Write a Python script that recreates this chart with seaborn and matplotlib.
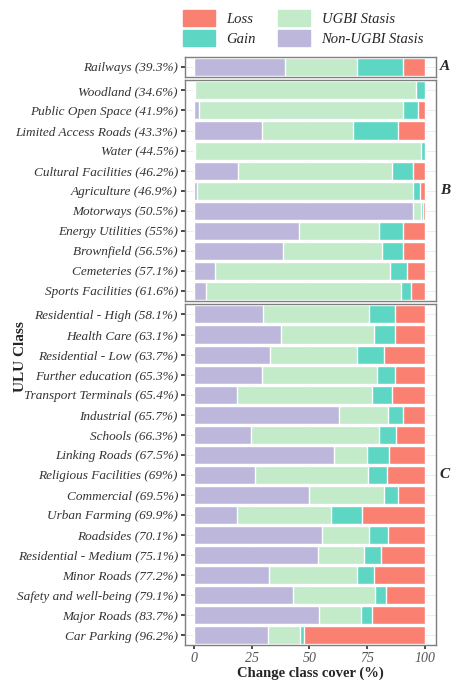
import matplotlib
matplotlib.use("Agg")
import matplotlib.pyplot as plt
from matplotlib.patches import Patch
import seaborn as sns
import pandas as pd
import numpy as np

sns.set_theme(style="whitegrid")
plt.rcParams['font.family'] = ['Liberation Serif', 'DejaVu Serif']

# cumulative boundaries: end of non-UGBI stasis, end of UGBI stasis, end of gain (loss fills to 100)
group_a = ["Railways (39.3%)"]
non_a = [39.3]; stasis_a = [70.9]; gain_a = [90.5]

group_b = ["Woodland (34.6%)", "Public Open Space (41.9%)", "Limited Access Roads (43.3%)",
           "Water (44.5%)", "Cultural Facilities (46.2%)", "Agriculture (46.9%)",
           "Motorways (50.5%)", "Energy Utilities (55%)", "Brownfield (56.5%)",
           "Cemeteries (57.1%)", "Sports Facilities (61.6%)"]
non_b = [0.3, 2.3, 29.4, 0.3, 18.9, 1.4, 95.2, 45.7, 38.6, 9.0, 5.0]
stasis_b = [96.3, 90.6, 69.1, 98.3, 85.9, 94.8, 98.6, 80.4, 81.7, 85.2, 89.9]
gain_b = [100.0, 97.1, 88.4, 100.0, 94.8, 98.2, 99.3, 90.5, 90.8, 92.4, 94.1]

group_c = ["Residential - High (58.1%)", "Health Care (63.1%)", "Residential - Low (63.7%)",
           "Further education (65.3%)", "Transport Terminals (65.4%)", "Industrial (65.7%)",
           "Schools (66.3%)", "Linking Roads (67.5%)", "Religious Facilities (69%)",
           "Commercial (69.5%)", "Urban Farming (69.9%)", "Roadsides (70.1%)",
           "Residential - Medium (75.1%)", "Minor Roads (77.2%)", "Safety and well-being (79.1%)",
           "Major Roads (83.7%)", "Car Parking (96.2%)"]
non_c = [30.1, 37.8, 33.1, 29.5, 18.6, 63.0, 24.8, 60.8, 26.5, 49.8, 18.6, 55.6, 53.7, 32.7, 42.8, 54.2, 32.1]
stasis_c = [76.1, 77.9, 70.8, 79.3, 77.2, 84.3, 80.4, 75.2, 75.6, 82.6, 59.4, 76.1, 73.8, 70.8, 78.6, 72.3, 46.1]
gain_c = [87.3, 87.0, 82.5, 87.3, 85.9, 90.5, 87.7, 84.4, 83.9, 88.4, 73.0, 84.1, 81.1, 77.9, 83.3, 77.1, 47.7]

colors = {"Loss": "#fa8072", "Gain": "#5dd6c4", "UGBI Stasis": "#c3ebc9", "Non-UGBI Stasis": "#bdb7dc"}

fig = plt.figure(figsize=(4.74, 6.85), dpi=100)
gs = fig.add_gridspec(3, 1, height_ratios=[1, 11, 17], hspace=0.018,
                      left=0.39, right=0.92, top=0.917, bottom=0.058)

panels = [("A", group_a, non_a, stasis_a, gain_a),
          ("B", group_b, non_b, stasis_b, gain_b),
          ("C", group_c, non_c, stasis_c, gain_c)]

for i, (tag, cats, non, stasis, gain) in enumerate(panels):
    ax = fig.add_subplot(gs[i])
    df = pd.DataFrame({"cls": cats, "non": non, "stasis": stasis, "gain": gain,
                       "loss": [100.0] * len(cats)})
    for col, key in [("loss", "Loss"), ("gain", "Gain"), ("stasis", "UGBI Stasis"), ("non", "Non-UGBI Stasis")]:
        sns.barplot(data=df, x=col, y="cls", color=colors[key], width=0.9,
                    saturation=1, ax=ax, orient="h")
    ax.set_xlim(-4, 105)
    ax.set_ylim(len(cats) - 0.5, -0.5)
    ax.set_ylabel("")
    ax.set_xlabel("")
    ax.grid(True, color="#ebebeb", lw=0.6)
    ax.set_axisbelow(True)
    for s in ax.spines.values():
        s.set_color("#7f7f7f"); s.set_linewidth(1)
    ax.tick_params(axis="y", labelsize=9.5, length=3, color="#333333", pad=2, left=True)
    for t in ax.get_yticklabels():
        t.set_fontstyle("italic"); t.set_color("#333333")
    ax.set_xticks([0, 25, 50, 75, 100])
    if i < 2:
        ax.tick_params(axis="x", labelbottom=False, length=0)
    else:
        ax.tick_params(axis="x", labelsize=10, length=3, color="#333333", pad=2, bottom=True)
        for t in ax.get_xticklabels():
            t.set_fontstyle("italic"); t.set_color("#555555")
        ax.set_xlabel("Change class cover (%)", fontsize=10.5, fontweight="bold", labelpad=1)
    ax.text(1.035, 0.5, tag, transform=ax.transAxes, fontsize=11, fontstyle="italic",
            fontweight="bold", va="center", ha="center")

fig.text(0.03, 0.48, "ULU Class", rotation=90, fontsize=11, fontweight="bold", va="center")

handles = [Patch(color=colors[k]) for k in ["Loss", "Gain", "UGBI Stasis", "Non-UGBI Stasis"]]
leg = fig.legend(handles, ["Loss", "Gain", "UGBI Stasis", "Non-UGBI Stasis"], ncol=2,
                 loc="upper center", bbox_to_anchor=(0.64, 1.005), frameon=False,
                 prop={"style": "italic", "size": 10.5}, handlelength=2.2, handleheight=1.3,
                 columnspacing=1.5, labelspacing=0.3)

fig.savefig("out.png", dpi=100)
